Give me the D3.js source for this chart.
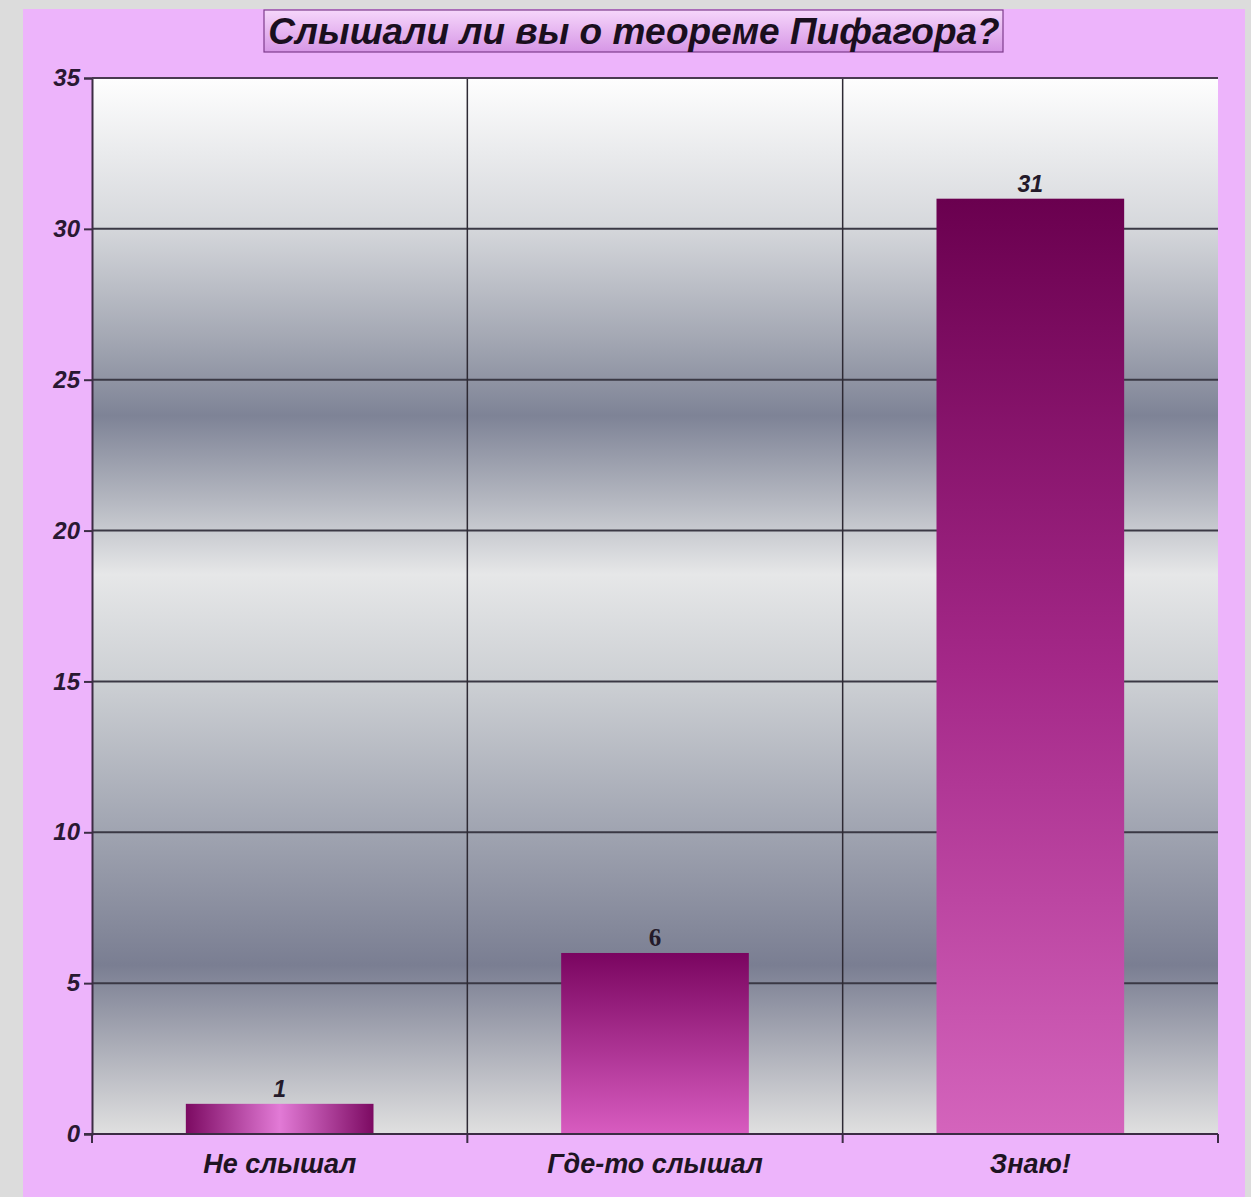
<!DOCTYPE html>
<html>
<head>
<meta charset="utf-8">
<script src="https://cdn.jsdelivr.net/npm/d3@7"></script>
<style>
  html, body { margin: 0; padding: 0; background: #dcdcdc; }
  svg { display: block; }
  text { font-family: "Liberation Sans", Arial, sans-serif; }
</style>
</head>
<body>
<svg id="chart" width="1251" height="1197"></svg>
<script>
var title = 'Слышали ли вы о теореме Пифагора?'
var categories = ['Не слышал', 'Где-то слышал', 'Знаю!']
var values = [1, 6, 31]
var yTicks = [0, 5, 10, 15, 20, 25, 30, 35]

var width = 1251, height = 1197
var plot = { left: 92, right: 1218, top: 78, bottom: 1134 }

var svg = d3.select('#chart')
var defs = svg.append('defs')

// plot background: banded grey gradient
var bg = defs.append('linearGradient').attr('id', 'plotBg')
  .attr('x1', 0).attr('y1', 0).attr('x2', 0).attr('y2', 1)
var bgStops = [
  [0, '#fefefe'], [0.14, '#d6d8dc'], [0.25, '#a2a6b2'], [0.32, '#7e8396'],
  [0.40, '#b4b7c0'], [0.47, '#e6e7e8'], [0.57, '#cdd0d4'], [0.70, '#a4a8b4'],
  [0.84, '#7a7e92'], [1, '#e0e0e0']
]
bgStops.forEach(function (s) {
  bg.append('stop').attr('offset', s[0]).attr('stop-color', s[1])
})

// title box gradient
var tg = defs.append('linearGradient').attr('id', 'titleBg')
  .attr('x1', 0).attr('y1', 0).attr('x2', 0).attr('y2', 1)
tg.append('stop').attr('offset', 0).attr('stop-color', '#f6d6fb')
tg.append('stop').attr('offset', 1).attr('stop-color', '#d696e6')

// bar gradients
var g0 = defs.append('linearGradient').attr('id', 'bar0')
  .attr('x1', 0).attr('y1', 0).attr('x2', 1).attr('y2', 0)
g0.append('stop').attr('offset', 0).attr('stop-color', '#7c0a62')
g0.append('stop').attr('offset', 0.5).attr('stop-color', '#e27ad6')
g0.append('stop').attr('offset', 1).attr('stop-color', '#7c0a62')

var g1 = defs.append('linearGradient').attr('id', 'bar1')
  .attr('x1', 0).attr('y1', 0).attr('x2', 0).attr('y2', 1)
g1.append('stop').attr('offset', 0).attr('stop-color', '#7a0560')
g1.append('stop').attr('offset', 1).attr('stop-color', '#d85cc0')

var g2 = defs.append('linearGradient').attr('id', 'bar2')
  .attr('x1', 0).attr('y1', 0).attr('x2', 0).attr('y2', 1)
g2.append('stop').attr('offset', 0).attr('stop-color', '#6a004f')
g2.append('stop').attr('offset', 0.5).attr('stop-color', '#a42888')
g2.append('stop').attr('offset', 1).attr('stop-color', '#d464bc')

// pink panel
svg.append('rect')
  .attr('x', 23).attr('y', 9)
  .attr('width', 1222).attr('height', height - 9)
  .style('fill', '#edb4fb')

// title
svg.append('rect')
  .attr('x', 264).attr('y', 10)
  .attr('width', 739).attr('height', 42)
  .style('fill', 'url(#titleBg)')
  .style('stroke', '#7e3c8c').style('stroke-width', 1.2)

svg.append('text')
  .attr('x', 634).attr('y', 44)
  .attr('text-anchor', 'middle')
  .style('font-size', '37px').style('font-weight', 'bold').style('font-style', 'italic')
  .style('fill', '#1a0f1e')
  .text(title)

var y = d3.scaleLinear().domain([0, 35]).range([plot.bottom, plot.top])
var x = d3.scaleBand().domain(categories).range([plot.left, plot.right]).padding(0)

svg.append('rect')
  .attr('x', plot.left).attr('y', plot.top)
  .attr('width', plot.right - plot.left).attr('height', plot.bottom - plot.top)
  .style('fill', 'url(#plotBg)')

// horizontal grid
svg.append('g').selectAll('line').data(yTicks.filter(function (d) { return d > 0 }))
  .join('line')
  .attr('x1', plot.left).attr('x2', plot.right)
  .attr('y1', function (d) { return y(d) }).attr('y2', function (d) { return y(d) })
  .style('stroke', '#3a3844').style('stroke-width', 2)

// vertical grid between categories
svg.append('g').selectAll('line').data(categories.slice(1))
  .join('line')
  .attr('x1', function (d) { return x(d) }).attr('x2', function (d) { return x(d) })
  .attr('y1', plot.top).attr('y2', plot.bottom)
  .style('stroke', '#2e2a34').style('stroke-width', 1.5)

// bars
var bw = x.bandwidth() * 0.5
svg.append('g').selectAll('rect').data(values)
  .join('rect')
  .attr('x', function (d, i) { return x(categories[i]) + (x.bandwidth() - bw) / 2 })
  .attr('y', function (d) { return y(d) })
  .attr('width', bw)
  .attr('height', function (d) { return y(0) - y(d) })
  .style('fill', function (d, i) { return 'url(#bar' + i + ')' })

// value labels
svg.append('g').selectAll('text').data(values)
  .join('text')
  .attr('x', function (d, i) { return x(categories[i]) + x.bandwidth() / 2 })
  .attr('y', function (d) { return y(d) - 7 })
  .attr('text-anchor', 'middle')
  .style('font-size', function (d, i) { return i === 1 ? '25px' : '23px' })
  .style('font-weight', 'bold')
  .style('font-style', function (d, i) { return i === 1 ? 'normal' : 'italic' })
  .style('font-family', function (d, i) { return i === 1 ? '"Liberation Serif", serif' : null })
  .style('fill', '#241a2a')
  .text(function (d) { return d })

// y axis
var yAxis = svg.append('g')
  .attr('transform', 'translate(' + plot.left + ',0)')
  .call(d3.axisLeft(y).tickValues(yTicks).tickSize(8).tickPadding(4).tickFormat(d3.format('d')))
yAxis.select('.domain').style('stroke', '#3c2c44').style('stroke-width', 2)
yAxis.selectAll('.tick line').style('stroke', '#3c2c44').style('stroke-width', 2)
yAxis.selectAll('.tick text')
  .style('font-size', '24px').style('font-style', 'italic').style('font-weight', 'bold')
  .style('font-family', '"Liberation Sans", Arial, sans-serif')
  .style('fill', '#2a1832')

// x axis
var xAxis = svg.append('g')
  .attr('transform', 'translate(0,' + plot.bottom + ')')
  .call(d3.axisBottom(x).tickSize(0).tickPadding(23))
xAxis.select('.domain').remove()
xAxis.selectAll('.tick text')
  .attr('dy', '0.6em')
  .style('font-size', '27px').style('font-weight', 'bold').style('font-style', 'italic')
  .style('font-family', '"Liberation Sans", Arial, sans-serif')
  .style('fill', '#1e1422')

var edges = categories.map(function (c) { return x(c) }).concat([plot.right])
svg.append('line')
  .attr('x1', plot.left - 8).attr('x2', plot.right)
  .attr('y1', plot.bottom).attr('y2', plot.bottom)
  .style('stroke', '#3c2c44').style('stroke-width', 2)
svg.append('g').selectAll('line').data(edges)
  .join('line')
  .attr('x1', function (d) { return d }).attr('x2', function (d) { return d })
  .attr('y1', plot.bottom).attr('y2', plot.bottom + 9)
  .style('stroke', '#3c2c44').style('stroke-width', 2)

// top border of plot
svg.append('line')
  .attr('x1', plot.left).attr('x2', plot.right)
  .attr('y1', plot.top).attr('y2', plot.top)
  .style('stroke', '#4a3a50').style('stroke-width', 2)
</script>
</body>
</html>
